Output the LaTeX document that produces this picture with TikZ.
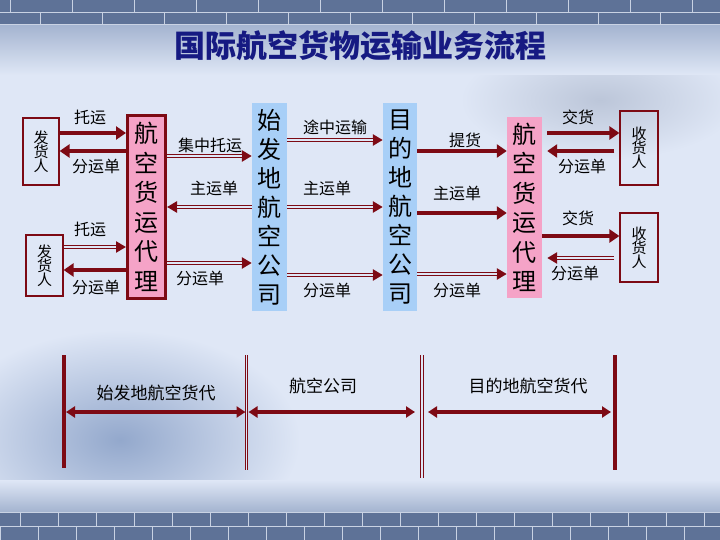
\documentclass[tikz,border=0pt]{standalone}
\usepackage{fontspec}
\newfontfamily\cjk{Noto Sans CJK SC}
\usetikzlibrary{arrows.meta}
\definecolor{dr}{HTML}{7D0A14}
\definecolor{bgc}{HTML}{DFE7F6}
\definecolor{pinkf}{HTML}{F5A3C7}
\definecolor{bluef}{HTML}{A8CFF7}
\definecolor{navy}{HTML}{161A82}
\definecolor{brick}{HTML}{5E7297}
\definecolor{mortar}{HTML}{C9D2E3}
\definecolor{wallshade}{HTML}{93A8CC}
\definecolor{cloud}{HTML}{BCC6D9}
\definecolor{fade}{HTML}{A3B3CF}
\begin{document}
\begin{tikzpicture}[x=1pt,y=-1pt,
  lbl/.style={font=\cjk\fontsize{16}{16}\selectfont, inner sep=0pt},
  blbl/.style={font=\cjk\fontsize{17}{17}\selectfont, inner sep=0pt},
  thk/.style={draw=dr, line width=4.5pt, -{Triangle[length=10pt,width=13pt]}},
  dbl/.style={draw=dr, line width=3.6pt, -{Triangle[length=10pt,width=11pt]},
    postaction={draw=bgc, line width=1.3pt, -, shorten >=#1}},
  dbl/.default=10pt,
  bi/.style={draw=dr, line width=4pt, {Triangle[length=9pt,width=11pt]}-{Triangle[length=9pt,width=11pt]}},
  person/.style={draw=dr, line width=1.2pt, align=center, inner sep=0pt,
    font=\cjk\fontsize{15}{14}\selectfont},
  agent/.style={fill=pinkf, align=center, inner sep=0pt,
    font=\cjk\fontsize{24}{29.5}\selectfont},
  airline/.style={fill=bluef, align=center, inner sep=0pt,
    font=\cjk\fontsize{24}{29}\selectfont},
  vline/.style={draw=dr, line width=4pt},
  dline/.style={draw=dr, line width=0.8pt, double=bgc, double distance=1.5pt}
]
\useasboundingbox (0,0) rectangle (720,540);
% background
\fill[bgc] (0,0) rectangle (720,540);
\shade[inner color=wallshade, outer color=bgc] (120,440) ellipse (180 and 110);
\shade[inner color=cloud, outer color=bgc] (600,100) ellipse (140 and 60);
\shade[top color=fade, bottom color=bgc] (0,24) rectangle (720,75);
\fill[brick] (0,0) rectangle (720,25);
\draw[mortar, line width=0.8pt] (0,12) -- (720,12) (0,24.5) -- (720,24.5);
\foreach \i in {0,...,12} {
  \draw[mortar, line width=0.8pt] (10+62*\i,0) -- (10+62*\i,12);
  \draw[mortar, line width=0.8pt] (40+62*\i,12) -- (40+62*\i,24.5);
}
\shade[top color=bgc, bottom color=fade] (0,480) rectangle (720,512);
\fill[brick] (0,512) rectangle (720,540);
\draw[mortar, line width=0.8pt] (0,512) -- (720,512) (0,526) -- (720,526);
\foreach \i in {0,...,19} {
  \draw[mortar, line width=0.8pt] (20+38*\i,512) -- (20+38*\i,526);
  \draw[mortar, line width=0.8pt] (38*\i,526) -- (38*\i,540);
}
% title
\node[font=\cjk\bfseries\fontsize{31}{31}\selectfont, text=navy] (title) at (360,46) {国际航空货物运输业务流程};
% boxes
\node[person, minimum width=36pt, minimum height=67pt] (s1) at (41,151.5) {发\\货\\人};
\node[person, minimum width=37pt, minimum height=61pt] (s2) at (44.5,265.5) {发\\货\\人};
\node[agent, draw=dr, line width=3pt, minimum width=38pt, minimum height=183pt] (a1) at (146.5,207) {航\\空\\货\\运\\代\\理};
\node[airline, minimum width=35pt, minimum height=208pt] (o1) at (269.5,207) {始\\发\\地\\航\\空\\公\\司};
\node[airline, minimum width=34pt, minimum height=208pt] (o2) at (400,207) {目\\的\\地\\航\\空\\公\\司};
\node[agent, minimum width=35pt, minimum height=181pt] (a2) at (524.5,207.5) {航\\空\\货\\运\\代\\理};
\node[person, minimum width=38pt, minimum height=74pt] (r1) at (639,148) {收\\货\\人};
\node[person, minimum width=38pt, minimum height=69pt] (r2) at (639,247.5) {收\\货\\人};
% labels
\node[lbl] (l1) at (90,117) {托运};
\node[lbl] (l2) at (96,166) {分运单};
\node[lbl] (l3) at (90,229) {托运};
\node[lbl] (l4) at (96,287) {分运单};
\node[lbl] (l5) at (210,145) {集中托运};
\node[lbl] (l6) at (214,188) {主运单};
\node[lbl] (l7) at (200,278) {分运单};
\node[lbl] (l8) at (335,127) {途中运输};
\node[lbl] (l9) at (327,188) {主运单};
\node[lbl] (l10) at (327,290) {分运单};
\node[lbl] (l11) at (465,140) {提货};
\node[lbl] (l12) at (457,193) {主运单};
\node[lbl] (l13) at (457,290) {分运单};
\node[lbl] (l14) at (578,117) {交货};
\node[lbl] (l15) at (582,166) {分运单};
\node[lbl] (l16) at (578,218) {交货};
\node[lbl] (l17) at (575,273) {分运单};
% arrows left
\draw[thk] (s1.east |- 0,133) -- (a1.west |- 0,133);
\draw[thk] (a1.west |- 0,151) -- (s1.east |- 0,151);
\draw[dbl] (s2.east |- 0,247) -- (a1.west |- 0,247);
\draw[thk] (a1.west |- 0,270) -- (s2.east |- 0,270);
\draw[dbl] (a1.east |- 0,156) -- (o1.west |- 0,156);
\draw[dbl] (o1.west |- 0,207) -- (a1.east |- 0,207);
\draw[dbl] (a1.east |- 0,263) -- (o1.west |- 0,263);
% middle
\draw[dbl] (o1.east |- 0,140) -- (o2.west |- 0,140);
\draw[dbl] (o1.east |- 0,207) -- (o2.west |- 0,207);
\draw[dbl] (o1.east |- 0,275) -- (o2.west |- 0,275);
% right
\draw[thk] (o2.east |- 0,151) -- (a2.west |- 0,151);
\draw[thk] (o2.east |- 0,213) -- (a2.west |- 0,213);
\draw[dbl] (o2.east |- 0,274) -- (a2.west |- 0,274);
\draw[thk, shorten <=5pt] (a2.east |- 0,133) -- (r1.west |- 0,133);
\draw[thk, shorten <=5pt, shorten >=5pt] (r1.west |- 0,151) -- (a2.east |- 0,151);
\draw[thk] (a2.east |- 0,236) -- (r2.west |- 0,236);
\draw[dbl=15pt, shorten <=5pt, shorten >=5pt] (r2.west |- 0,258) -- (a2.east |- 0,258);
% bottom
\coordinate (v1t) at (64,355); \coordinate (v1b) at (64,468);
\coordinate (v2t) at (246.5,355); \coordinate (v2b) at (246.5,470);
\coordinate (v3t) at (422,355); \coordinate (v3b) at (422,478);
\coordinate (v4t) at (615,355); \coordinate (v4b) at (615,470);
\draw[vline] (v1t) -- (v1b);
\draw[dline] (v2t) -- (v2b);
\draw[dline] (v3t) -- (v3b);
\draw[vline] (v4t) -- (v4b);
\draw[bi, shorten <=2pt, shorten >=1pt] (v1t |- 0,412) -- (v2t |- 0,412);
\draw[bi, shorten <=2pt, shorten >=7pt] (v2t |- 0,412) -- (v3t |- 0,412);
\draw[bi, shorten <=6pt, shorten >=4pt] (v3t |- 0,412) -- (v4t |- 0,412);
\node[blbl] (b1) at (156,393) {始发地航空货代};
\node[blbl] (b2) at (323,386) {航空公司};
\node[blbl] (b3) at (528,386) {目的地航空货代};
\end{tikzpicture}
\end{document}
